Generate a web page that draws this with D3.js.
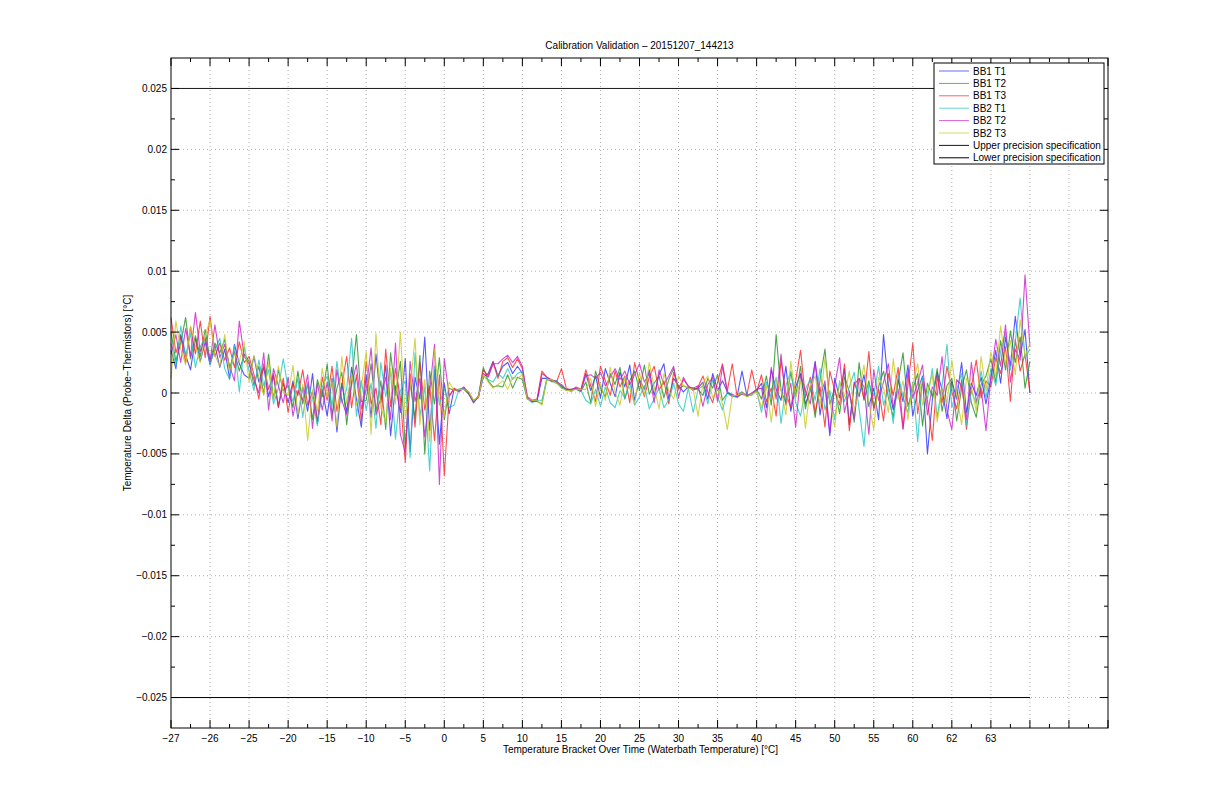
<!DOCTYPE html>
<html><head><meta charset="utf-8">
<script src="https://cdn.jsdelivr.net/npm/d3@7"></script>
<style>
body{margin:0;background:#fff}
text{font-family:"Liberation Sans",Arial,Helvetica,sans-serif;font-size:10px;fill:#000}
</style>
</head><body>
<svg id="chart" width="1224" height="792"></svg>
<script>
// ---------- DATA ----------
const titleText = "Calibration Validation \u2013 20151207_144213";
const xLabelText = "Temperature Bracket Over Time (Waterbath Temperature) [\u00b0C]";
const yLabelText = "Temperature Delta (Probe\u2212Thermistors) [\u00b0C]";

// x tick labels (one per bracket tick, every 8 samples); remaining ticks unlabeled
const xTickLabels = ["\u221227","\u221226","\u221225","\u221220","\u221215","\u221210","\u22125","0","5","10","15","20","25","30","35","40","45","50","55","60","62","63"];
const samplesPerBracket = 8;
const bracketCount = 24;

const yTicks = [-0.025,-0.02,-0.015,-0.01,-0.005,0,0.005,0.01,0.015,0.02,0.025];
const yDomain = [-0.0275, 0.0275];

const seriesNames = ["BB1 T1","BB1 T2","BB1 T3","BB2 T1","BB2 T2","BB2 T3"];
const seriesColors = ["#2a2aff","#1f8f1f","#ff2020","#1fc4c4","#c81ec8","#c8c81e"];

// series values in milli-degrees (mK), one sample per 1/8 bracket
const bb1t1_mK = [3.5,2.0,4.8,3.1,1.9,4.5,2.6,4.2,2.3,3.9,2.1,3.6,1.2,4.0,2.4,1.5,
 1.2,3.0,0.9,2.1,-0.3,1.4,-1.2,0.8,
 -0.8,1.0,-2.1,0.5,-1.5,1.6,-2.5,0.3,-1.9,1.2,-3.2,0.8,-1.6,2.1,-0.5,-2.8,
 1.5,-2.0,3.2,-0.8,2.3,-3.5,0.6,-1.6,2.8,-4.8,1.3,-0.5,4.6,-3.1,1.9,-4.2,0.8,-1.7,
 0.3,0.2,0.4,0.0,-0.7,-0.3,
 1.3,1.6,2.6,1.4,2.2,2.5,1.6, 2.2,1.6, -0.4,-0.7,-0.6,1.2, 1.2,1.0,1.0,0.5, 0.3,0.2,0.4,0.2,
 1.6,0.2,1.4,-0.4,2.0,0.8,-0.3,1.7,0.5,2.3,-0.6,1.1,0.3,1.9,-0.2,1.5,2.4,-0.5,1.2,0.6,0.1,
 0.5,0.3,0.4, 0.9,-0.5,1.6,0.2,1.0, 0.1,-0.2,-0.3,1.8,-0.2,-0.1,0.2,
 0.8,-1.2,1.9,0.3,-0.6,2.2,-1.5,0.5,1.6,-0.9,0.2,2.6,-1.8,0.7,-3.5,1.2,-0.4,2.0,-2.6,0.9,-0.3,1.5,-1.1,0.4,-2.2,4.8,0.6,-1.4,1.1,-0.7,2.3,-1.9,0.2,1.4,-5.0,-0.6,1.7,0.3,-2.1,1.0,-0.5,2.5,-1.6,0.8,-0.2,1.3,-0.9,
 1.2,3.5,0.8,4.6,2.2,6.3,3.0,5.2,0.0];

const bb1t2_mK = [5.0,2.6,4.1,6.2,2.8,4.7,3.0,5.2,2.7,4.1,3.3,4.4,2.0,3.4,1.8,3.2,
 2.6,0.6,2.2,-0.1,3.2,-0.5,1.9,0.2,
 0.6,-1.2,1.8,-0.9,0.7,-2.2,1.1,-0.3,2.4,-1.8,0.4,1.7,-2.6,0.9,4.8,-0.7,
 -0.6,2.4,-1.5,1.0,-3.0,3.3,-0.2,2.6,-4.4,0.9,-2.1,3.1,-5.0,1.8,-0.9,2.9,-2.2,0.4,
 0.2,0.3,0.3,-0.1,-0.8,-0.2,
 2.1,1.0,0.5,0.6,0.5,1.5,0.4, 1.3,1.1, -0.5,-0.7,-0.7,-0.9, 1.1,1.0,0.8,0.6, 0.2,0.3,0.3,0.1,
 0.9,-0.8,1.8,0.4,-0.3,1.6,0.7,2.1,-0.5,1.0,1.8,0.2,2.3,-0.1,0.8,1.4,-0.4,1.1,2.0,0.3,0.6,
 0.4,0.4,0.3, -0.2,1.2,0.4,1.5,-0.6, 0.0,-0.3,-0.2,0.1,-0.3,-0.1,0.3,
 -0.5,1.4,-1.0,4.8,0.2,-0.8,1.7,-0.3,2.2,-1.3,0.6,-2.0,1.1,3.6,-0.9,0.4,-1.7,1.3,0.1,-2.4,2.5,-0.6,1.0,-1.2,0.5,1.8,-0.4,-2.0,0.9,3.3,-1.1,0.3,1.6,-2.7,0.8,-0.3,2.0,-1.5,0.6,1.2,-2.3,0.4,1.9,-0.8,-2.0,0.7,1.4,
 2.8,0.9,4.3,1.9,5.1,2.5,4.6,0.4,2.6];

const bb1t3_mK = [6.2,3.3,4.6,2.5,5.4,3.2,5.9,2.9,6.3,3.0,4.1,2.7,3.7,2.1,4.2,2.5,
 3.0,1.5,-0.5,2.4,0.3,1.6,-1.1,1.2,
 -1.6,0.8,-0.2,1.9,-1.0,0.1,-2.4,1.3,-0.6,2.2,-1.5,0.6,3.0,-1.2,1.5,-2.3,
 2.6,-0.9,0.4,-2.6,3.6,-1.1,2.0,-0.4,-5.7,1.6,-2.8,2.5,-1.4,0.6,-3.9,1.5,-6.8,-0.3,
 0.4,0.2,0.5,0.0,-0.6,-0.4,
 1.9,1.4,2.5,1.2,2.6,2.9,2.1, 2.8,2.0, -0.3,-0.6,-0.5,1.8, 1.3,1.1,0.9,2.0, 0.4,0.2,0.5,0.3,
 1.9,0.6,-0.7,2.2,1.0,-0.2,1.8,0.5,1.4,-0.8,2.5,0.9,-0.3,1.3,2.2,0.2,1.0,-0.9,1.7,0.4,1.1,
 0.6,0.2,0.5, 1.4,0.1,-0.8,0.9,2.4, 0.2,2.4,-0.3,0.0,-0.2,1.9,0.1,
 1.5,-0.7,0.4,-1.9,2.7,0.0,-1.2,1.0,3.5,-0.4,1.3,-1.6,0.5,-2.8,1.8,0.2,-1.0,2.4,-3.1,0.7,1.2,-0.5,3.4,-1.4,0.3,-2.3,1.6,-0.2,2.1,-3.0,0.6,4.1,-1.7,0.9,-0.6,-3.9,1.4,-0.8,2.2,0.1,-1.3,1.1,-3.0,0.5,2.7,-0.4,1.0,
 0.5,2.9,1.6,3.8,-0.7,4.4,1.8,3.2,0.0];

const bb2t1_mK = [4.1,2.2,5.5,3.0,4.9,2.1,3.8,4.6,2.4,3.5,4.5,2.0,1.1,3.9,0.1,3.8,
 1.8,0.2,2.7,0.6,1.9,-0.9,0.4,2.8,
 0.4,-0.7,1.2,-2.0,0.9,-0.4,-2.7,0.5,1.4,-1.1,2.6,-0.8,0.3,4.5,-1.9,1.0,
 -1.4,0.8,-2.9,2.5,-0.3,1.7,-3.8,0.2,1.0,-5.3,3.3,-1.9,0.5,-6.4,2.2,-1.0,0.4,-1.2,
 -1.0,0.3,0.4,0.1,-0.7,-0.3,
 1.4,1.1,0.9,1.6,1.2,2.0,1.1, 1.6,1.8, -0.4,-0.8,-0.6,-0.6, 1.2,0.9,1.0,0.4, 0.3,0.1,0.4,0.2,
 -0.6,-0.9,0.3,-1.1,0.5,-0.8,-1.2,0.2,-0.4,0.9,-1.0,-0.3,0.6,-1.3,-0.5,0.4,-1.2,-0.6,0.8,-0.9,-1.5,
 0.4,-1.6,0.3, 0.6,-0.9,1.1,-0.3,-1.4, 0.1,-0.2,-0.4,0.0,-0.1,-0.2,0.2,
 -1.6,0.9,-0.4,1.3,-2.5,0.6,1.8,-0.8,-1.9,0.3,1.1,-0.6,2.0,-1.4,0.2,-2.2,1.0,-0.7,0.5,1.7,-1.3,-4.4,0.8,-0.2,2.2,-1.0,0.4,-2.5,1.5,-0.3,-1.6,0.9,-4.0,1.3,-0.5,2.0,-2.0,0.6,4.0,-1.2,0.3,1.6,-2.7,0.2,-0.9,1.8,-0.4,
 2.0,0.6,3.4,5.0,1.9,4.2,7.8,2.9,3.6];

const bb2t2_mK = [3.2,4.8,2.5,5.3,3.0,6.6,3.4,4.5,2.6,5.6,2.9,4.0,2.2,1.0,5.9,3.0,
 2.4,1.1,0.0,3.3,-1.4,2.0,0.6,-0.8,
 1.3,-1.9,0.2,-0.6,1.5,-2.9,0.8,-1.4,0.9,-2.3,1.9,-0.6,-1.8,0.7,2.3,-1.3,
 0.3,3.7,-1.8,-0.4,1.3,-2.2,4.1,-3.4,-4.9,2.6,-0.7,1.2,-3.6,0.1,4.0,-7.5,2.8,-0.2,
 0.3,0.1,0.4,0.0,-0.8,-0.3,
 1.6,1.3,2.4,2.4,2.8,3.1,2.5, 3.0,2.2, -0.4,-0.7,-0.7,1.6, 1.3,1.0,0.9,0.7, 0.3,0.3,0.4,0.2,
 1.4,1.5,1.2,1.7,0.6,1.3,2.0,1.1,1.8,0.7,1.5,2.4,0.9,1.6,-0.8,1.9,0.7,1.4,2.2,-0.4,1.3,
 0.5,0.4,0.6, -1.1,0.7,1.3,-0.7,2.2, 0.0,-0.1,-0.3,-0.1,-0.2,0.0,0.3,
 0.4,-2.0,2.1,-0.5,3.2,-1.0,0.8,-2.8,1.5,0.2,-0.9,2.5,-0.3,1.0,-3.3,0.6,2.9,-1.6,0.1,-2.1,1.2,0.5,-3.4,1.9,-0.6,0.9,2.4,-1.2,0.3,-2.9,1.7,-0.4,0.8,2.3,-1.8,0.5,-0.2,3.0,-1.4,-3.0,1.1,0.6,-2.2,2.5,-0.7,0.4,-3.1,
 1.3,4.4,2.2,5.6,0.9,3.6,2.7,9.7,3.8];

const bb2t3_mK = [1.2,5.9,3.6,2.3,5.5,3.9,2.5,4.7,6.0,3.1,2.2,4.8,1.8,3.2,2.6,4.2,
 0.9,3.1,1.3,-0.2,2.5,-0.6,2.2,0.1,
 -0.2,2.3,-1.8,0.7,-3.9,0.3,-1.5,2.0,-0.4,1.0,-2.8,3.0,-0.9,1.6,-1.0,0.5,
 3.4,-3.4,4.9,-1.2,-2.4,2.0,-0.9,5.0,-2.0,0.3,4.5,-2.6,1.1,-4.0,3.6,-0.6,-1.9,0.9,
 0.2,0.3,0.3,0.1,-0.6,-0.3,
 1.5,0.9,0.4,0.7,1.0,0.3,1.3, 1.2,1.5, -0.5,-0.6,-0.6,-1.0, 1.1,1.1,0.8,0.4, 0.2,0.2,0.3,0.3,
 0.3,1.2,-1.1,0.8,-0.6,2.1,0.1,-1.0,1.3,0.4,-0.9,1.7,-0.2,2.5,0.5,-1.3,1.6,0.2,-0.5,1.4,0.6,
 0.4,0.3,-1.9, 0.8,1.4,-0.4,0.3,-0.9, -3.0,-0.2,-0.2,0.0,-0.3,-0.1,0.1,
 -1.2,0.6,-2.4,1.1,0.3,-1.8,2.6,-0.4,1.0,-2.9,0.5,1.4,-1.1,2.9,-0.7,-2.8,0.9,-0.3,1.8,-1.4,0.2,2.3,-0.8,-3.0,1.3,0.4,-1.6,2.8,-0.5,1.0,-2.2,0.7,2.4,-1.0,0.1,1.5,-2.4,0.3,-0.9,2.7,-0.2,-2.6,1.2,0.6,-1.5,3.0,0.2,
 3.4,1.4,5.5,2.4,4.3,1.5,6.0,3.0,4.1];

const seriesData = [bb1t1_mK, bb1t2_mK, bb1t3_mK, bb2t1_mK, bb2t2_mK, bb2t3_mK];

const specNames = ["Upper precision specification","Lower precision specification"];
const specValues = [0.025, -0.025];
const specColors = ["#1a1a1a","#000000"];

// ---------- LAYOUT ----------
const pLeft = 171, pRight = 1108, pTop = 58, pBottom = 728;

const svg = d3.select("#chart");
const totalSamples = samplesPerBracket * bracketCount;
const x = d3.scaleLinear().domain([0, totalSamples]).range([pLeft, pRight]);
const y = d3.scaleLinear().domain(yDomain).range([pBottom, pTop]);

const majorX = d3.range(0, totalSamples + 1, samplesPerBracket);
const minorX = d3.range(samplesPerBracket / 2, totalSamples, samplesPerBracket);
const minorY = d3.range(yTicks.length - 1).map(i => (yTicks[i] + yTicks[i + 1]) / 2);

// grid
const grid = svg.append("g");
majorX.filter(v => v > 0 && v < totalSamples).forEach(v => {
  grid.append("line").attr("x1", x(v)).attr("x2", x(v)).attr("y1", pTop).attr("y2", pBottom)
    .attr("stroke", "#9a9a9a").attr("stroke-width", 0.8).attr("stroke-dasharray", "1,3");
});
yTicks.forEach(v => {
  grid.append("line").attr("x1", pLeft).attr("x2", pRight).attr("y1", y(v)).attr("y2", y(v))
    .attr("stroke", "#9a9a9a").attr("stroke-width", 0.8).attr("stroke-dasharray", "1,3");
});

// spec lines
const lastIndex = bb1t1_mK.length - 1;
specValues.forEach((v, k) => {
  svg.append("line").attr("x1", x(0)).attr("x2", x(lastIndex)).attr("y1", y(v)).attr("y2", y(v))
    .attr("stroke", specColors[k]).attr("stroke-width", 1);
});

// series
const line = d3.line().x((d, i) => x(i)).y(d => y(d / 1000));
seriesData.forEach((arr, k) => {
  svg.append("path").datum(arr).attr("d", line)
    .attr("fill", "none").attr("stroke", seriesColors[k])
    .attr("stroke-width", 1.1).attr("stroke-opacity", 0.8).attr("stroke-linejoin", "round");
});

// axes frame
svg.append("rect").attr("x", pLeft).attr("y", pTop).attr("width", pRight - pLeft).attr("height", pBottom - pTop)
  .attr("fill", "none").attr("stroke", "#000").attr("stroke-width", 1);

// ticks (inward, mirrored)
const ticks = svg.append("g").attr("stroke", "#000").attr("stroke-width", 1);
majorX.forEach(v => {
  ticks.append("line").attr("x1", x(v)).attr("x2", x(v)).attr("y1", pBottom).attr("y2", pBottom - 8);
  ticks.append("line").attr("x1", x(v)).attr("x2", x(v)).attr("y1", pTop).attr("y2", pTop + 8);
});
minorX.forEach(v => {
  ticks.append("line").attr("x1", x(v)).attr("x2", x(v)).attr("y1", pBottom).attr("y2", pBottom - 4);
  ticks.append("line").attr("x1", x(v)).attr("x2", x(v)).attr("y1", pTop).attr("y2", pTop + 4);
});
yTicks.forEach(v => {
  ticks.append("line").attr("x1", pLeft).attr("x2", pLeft + 8).attr("y1", y(v)).attr("y2", y(v));
  ticks.append("line").attr("x1", pRight).attr("x2", pRight - 8).attr("y1", y(v)).attr("y2", y(v));
});
minorY.forEach(v => {
  ticks.append("line").attr("x1", pLeft).attr("x2", pLeft + 4).attr("y1", y(v)).attr("y2", y(v));
  ticks.append("line").attr("x1", pRight).attr("x2", pRight - 4).attr("y1", y(v)).attr("y2", y(v));
});

// x tick labels
majorX.forEach((v, i) => {
  if (i < xTickLabels.length) {
    svg.append("text").attr("x", x(v)).attr("y", 742).attr("text-anchor", "middle").text(xTickLabels[i]);
  }
});
// y tick labels
const fmtY = v => v === 0 ? "0" : (v < 0 ? "\u2212" : "") + String(+Math.abs(v).toFixed(3));
yTicks.forEach(v => {
  svg.append("text").attr("x", 167).attr("y", y(v)).attr("dy", "0.35em").attr("text-anchor", "end").text(fmtY(v));
});

// titles
svg.append("text").attr("x", (pLeft + pRight) / 2).attr("y", 49).attr("text-anchor", "middle").text(titleText);
svg.append("text").attr("x", (pLeft + pRight) / 2 + 1).attr("y", 753).attr("text-anchor", "middle").text(xLabelText);
svg.append("text").attr("transform", `translate(131,${(pTop + pBottom) / 2}) rotate(-90)`)
  .attr("text-anchor", "middle").text(yLabelText);

// legend
const lg = svg.append("g");
lg.append("rect").attr("x", 934).attr("y", 63).attr("width", 170).attr("height", 101)
  .attr("fill", "#fff").attr("stroke", "#000").attr("stroke-width", 1);
const legendNames = seriesNames.concat(specNames);
const legendColors = seriesColors.concat(specColors);
legendNames.forEach((n, k) => {
  const yy = 71 + k * 12.4;
  lg.append("line").attr("x1", 939).attr("x2", 969).attr("y1", yy).attr("y2", yy)
    .attr("stroke", legendColors[k]).attr("stroke-width", 1)
    .attr("stroke-opacity", k < 6 ? 0.7 : 1);
  lg.append("text").attr("x", 973).attr("y", yy).attr("dy", "0.35em").text(n);
});
</script>
</body></html>
